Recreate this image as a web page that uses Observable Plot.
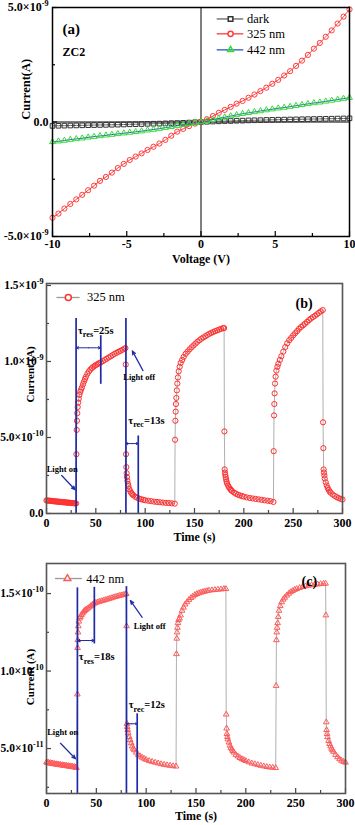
<!DOCTYPE html>
<html><head><meta charset="utf-8">
<script src="https://cdn.jsdelivr.net/npm/d3@7"></script>
<script src="https://cdn.jsdelivr.net/npm/@observablehq/plot@0.6"></script>
<style>
html,body{margin:0;padding:0;background:#fff;}
#wrap{position:relative;width:355px;height:825px;overflow:hidden;background:#fff;}
#wrap svg{position:absolute;left:0;}
</style></head><body><div id="wrap"></div>
<script>
// ---------------- Panel (a): I–V curves, current in units of 1e-9 A ----------------
const voltage = [-10,-9.6,-9.2,-8.8,-8.4,-8,-7.6,-7.2,-6.8,-6.4,-6,-5.6,-5.2,-4.8,-4.4,-4,-3.6,-3.2,-2.8,-2.4,-2,-1.6,-1.2,-0.8,-0.4,0,0.4,0.8,1.2,1.6,2,2.4,2.8,3.2,3.6,4,4.4,4.8,5.2,5.6,6,6.4,6.8,7.2,7.6,8,8.4,8.8,9.2,9.6,10];
const currentDark = [-0.17,-0.165,-0.16,-0.155,-0.15,-0.145,-0.14,-0.135,-0.13,-0.125,-0.12,-0.115,-0.11,-0.1,-0.095,-0.09,-0.08,-0.075,-0.07,-0.06,-0.05,-0.045,-0.035,-0.025,-0.01,0,0.01,0.02,0.03,0.04,0.045,0.055,0.06,0.07,0.075,0.08,0.09,0.095,0.1,0.105,0.11,0.115,0.12,0.125,0.13,0.135,0.14,0.145,0.15,0.155,0.16];
const current325 = [-4.18,-4.0,-3.78,-3.58,-3.38,-3.18,-2.98,-2.78,-2.57,-2.4,-2.21,-2.01,-1.83,-1.66,-1.51,-1.37,-1.22,-1.08,-0.94,-0.78,-0.6,-0.42,-0.3,-0.18,-0.07,0.02,0.12,0.26,0.4,0.53,0.66,0.8,0.92,1.06,1.2,1.35,1.5,1.67,1.84,2.03,2.22,2.45,2.68,2.93,3.2,3.45,3.72,4.0,4.3,4.6,4.92];
const current442 = [-0.87,-0.84,-0.81,-0.77,-0.74,-0.71,-0.67,-0.64,-0.61,-0.58,-0.55,-0.52,-0.49,-0.46,-0.43,-0.4,-0.36,-0.33,-0.29,-0.25,-0.21,-0.16,-0.12,-0.08,-0.04,0,0.05,0.1,0.16,0.21,0.26,0.31,0.36,0.4,0.44,0.48,0.52,0.56,0.6,0.63,0.67,0.71,0.75,0.79,0.83,0.86,0.9,0.94,0.98,1.02,1.06];
const seriesNamesA = ["dark", "325 nm", "442 nm"];
const xTicksA = [-10, -5, 0, 5, 10];
const xMinorA = [-7.5, -2.5, 2.5, 7.5];
const yTicksA = [-5, 0, 5];
const yTickLabelsA = ["-5.0×10^-9", "0.0", "5.0×10^-9"];
const yMinorA = [-2.5, 2.5];

// ---------------- Panel (b): 325 nm switching, [time s, current in 1e-10 A] ----------------
const b_dark1 = [[0,0.86],[1,0.85],[2,0.85],[3,0.84],[4,0.83],[5,0.83],[6,0.82],[7,0.81],[8,0.8],[9,0.8],[10,0.79],[11,0.78],[12,0.78],[13,0.77],[14,0.76],[15,0.76],[16,0.75],[17,0.74],[18,0.74],[19,0.73],[20,0.72],[21,0.72],[22,0.71],[23,0.71],[24,0.7],[25,0.69],[26,0.69],[27,0.68],[28,0.67],[29,0.67],[30,0.66]];
const b_on1 = [[30.3,3.9],[30.6,5.5],[30.9,6.1],[31.2,6.6],[31.6,7.0],[32.1,7.3],[32.7,7.55],[33.4,7.8],[34.2,8.0],[35,8.15],[36,8.3],[37,8.5],[38,8.68],[39,8.85],[40,9.0],[41.5,9.2],[43,9.35],[44.5,9.47],[46,9.57],[47.5,9.65],[49,9.72],[50.5,9.78],[52,9.84],[53.5,9.89],[55,9.94],[57,10.02],[59,10.1],[61,10.18],[63,10.26],[65,10.34],[67,10.42],[69,10.5],[71,10.57],[73,10.64],[75,10.7],[77,10.77],[79,10.84],[80,10.88]];
const b_off1 = [[80.3,9.8],[80.6,3.9],[80.9,3.05],[81.2,2.65],[81.5,2.4],[82,2.15],[82.5,1.95],[83,1.8],[84,1.6],[85,1.45],[86,1.35],[87,1.27],[88,1.2],[90,1.1],[92,1.03],[94,0.98],[96,0.94],[98,0.9],[100,0.87],[103,0.84],[106,0.81],[109,0.78],[112,0.76],[115,0.74],[118,0.72],[121,0.7],[124,0.69],[127,0.67],[130,0.65]];
const b_on2 = [[130.3,4.85],[130.6,6.1],[130.9,6.7],[131.2,7.2],[131.6,7.6],[132.1,8.1],[132.6,8.55],[133.2,8.95],[134,9.35],[135,9.65],[136,9.9],[137.5,10.1],[139,10.3],[141,10.5],[143,10.65],[145,10.8],[147,10.93],[149,11.05],[151,11.18],[153,11.3],[155,11.4],[157,11.5],[159,11.58],[161,11.66],[163,11.74],[165,11.82],[167,11.88],[169,11.94],[171,12.0],[173,12.05],[175,12.1],[177,12.15],[179,12.19],[180,12.2]];
const b_off2 = [[180.3,5.4],[180.6,2.9],[180.9,2.7],[181.2,2.55],[181.6,2.4],[182,2.25],[182.5,2.1],[183,1.98],[184,1.84],[185,1.72],[186,1.63],[187,1.55],[188,1.48],[190,1.38],[192,1.3],[194,1.24],[196,1.19],[198,1.15],[200,1.11],[203,1.06],[206,1.02],[209,0.99],[212,0.96],[215,0.93],[218,0.9],[221,0.87],[224,0.84],[227,0.81],[230,0.76]];
const b_on3 = [[230.3,4.1],[230.6,6.45],[230.9,7.2],[231.2,7.9],[231.6,8.55],[232.2,9.0],[233,9.4],[234,9.65],[235,9.85],[236.5,10.1],[238,10.35],[240,10.65],[242,10.95],[244,11.2],[246,11.4],[248,11.55],[250,11.72],[252,11.86],[254,12.0],[256,12.15],[258,12.27],[260,12.38],[262,12.48],[264,12.6],[266,12.72],[268,12.82],[270,12.92],[272,13.0],[274,13.1],[276,13.2],[278,13.3],[280,13.38]];
const b_off3 = [[280.3,6.0],[280.6,4.3],[280.9,2.9],[281.2,2.7],[281.6,2.5],[282,2.3],[283,2.05],[284,1.85],[285,1.68],[286,1.55],[287,1.45],[288,1.37],[290,1.25],[292,1.16],[294,1.08],[296,1.02],[298,0.96],[300,0.92]];
const yTicksB = [0, 5, 10, 15];
const yTickLabelsB = ["0.0", "5.0×10^-10", "1.0×10^-9", "1.5×10^-9"];
const yMinorB = [2.5, 7.5, 12.5];

// ---------------- Panel (c): 442 nm switching, [time s, current in 1e-11 A] ----------------
const c_dark1 = [[0,4.12],[1,4.08],[2,4.1],[3,4.05],[4,4.07],[5,4.03],[6,4.05],[7,4.0],[8,4.02],[9,3.98],[10,4.0],[11,3.96],[12,3.98],[13,3.94],[14,3.96],[15,3.92],[16,3.94],[17,3.9],[18,3.92],[19,3.88],[20,3.9],[21,3.86],[22,3.88],[23,3.84],[24,3.86],[25,3.82],[26,3.84],[27,3.8],[28,3.82],[29,3.78],[30,3.76]];
const c_on1 = [[31.0,8.5],[31.2,11.5],[31.4,12.0],[31.6,12.5],[31.9,12.9],[32.4,13.2],[33.2,13.4],[34,13.5],[35,13.62],[36,13.72],[37,13.8],[38,13.88],[39,13.94],[40,13.98],[41.5,14.05],[43,14.12],[44.5,14.2],[46,14.28],[47.5,14.35],[49,14.4],[51,14.44],[53,14.48],[55,14.52],[57,14.55],[59,14.59],[61,14.63],[63,14.67],[65,14.71],[67,14.75],[69,14.79],[71,14.82],[73,14.86],[75,14.89],[77,14.92],[79,14.96],[80,14.98]];
const c_off1 = [[80.3,12.9],[80.7,6.6],[81,6.4],[81.5,6.2],[82,6.0],[83,5.75],[84,5.55],[85,5.35],[86,5.15],[87,5.0],[88,4.9],[90,4.75],[92,4.6],[94,4.5],[96,4.42],[98,4.35],[100,4.28],[103,4.2],[106,4.15],[109,4.1],[112,4.05],[115,4.0],[118,3.96],[121,3.93],[124,3.9],[127,3.87],[130,3.85]];
const c_on2 = [[130.4,11.1],[130.7,12.1],[131,12.5],[131.4,12.8],[131.9,13.1],[132.5,13.3],[133.5,13.4],[134.5,13.6],[136,13.9],[137.5,14.1],[139,14.3],[141,14.45],[143,14.6],[145,14.72],[147,14.82],[149,14.92],[151,14.98],[153,15.03],[155,15.07],[157,15.11],[159,15.14],[161,15.17],[163,15.2],[166,15.22],[169,15.24],[172,15.26],[175,15.28],[178,15.3],[180,15.3]];
const c_off2 = [[180.3,7.2],[180.7,6.3],[181,5.95],[181.5,5.75],[182,5.6],[183,5.4],[184,5.2],[185,5.05],[186,4.95],[187,4.85],[188,4.75],[190,4.6],[192,4.5],[194,4.4],[196,4.33],[198,4.27],[200,4.2],[203,4.12],[206,4.05],[209,4.0],[212,3.95],[215,3.9],[218,3.86],[221,3.82],[224,3.79],[227,3.77],[230,3.75]];
const c_on3 = [[230.4,9.05],[230.7,12.0],[231,12.5],[231.4,12.8],[231.9,13.1],[232.5,13.5],[233.3,13.9],[234.5,14.2],[236,14.45],[237.5,14.62],[239,14.74],[241,14.88],[243,15.0],[245,15.1],[247,15.18],[249,15.25],[251,15.3],[254,15.37],[257,15.43],[260,15.48],[263,15.52],[266,15.55],[269,15.58],[272,15.6],[275,15.62],[278,15.64],[280,15.65]];
const c_off3 = [[280.3,13.6],[280.7,6.7],[281,6.2],[281.5,5.95],[282,5.75],[283,5.5],[284,5.3],[285,5.15],[286,5.0],[287,4.9],[288,4.8],[290,4.6],[292,4.45],[294,4.32],[296,4.22],[298,4.15],[300,4.1]];
const yTicksC = [5, 10, 15];
const yTickLabelsC = ["5.0×10^-11", "1.0×10^-10", "1.5×10^-10"];
const yMinorC = [2.5, 7.5, 12.5];

const xTicksT = [0, 50, 100, 150, 200, 250, 300];
const xMinorT = [25, 75, 125, 175, 225, 275];

// ---------------- helpers ----------------
const FONT = "'Liberation Serif','Times New Roman',serif";
const BLUE = "#1f2aa6";
const wrap = document.getElementById("wrap");
const NS = "http://www.w3.org/2000/svg";

function inwardTicks(xs, ys, innerW, innerH, len, color) {
  return [
    Plot.ruleX(xs, {x: d => d, insetTop: innerH - len, stroke: color, strokeWidth: 1.2}),
    Plot.ruleY(ys, {y: d => d, insetRight: innerW - len, stroke: color, strokeWidth: 1.2})
  ];
}

function richText(svg) {
  svg.querySelectorAll("text").forEach(el => {
    const s = el.textContent;
    const fs = parseFloat(getComputedStyle(el).fontSize) || 12;
    if (s.includes("^")) {
      const [base, exp] = s.split("^");
      el.textContent = "";
      const a = document.createElementNS(NS, "tspan"); a.textContent = base; el.appendChild(a);
      const b = document.createElementNS(NS, "tspan");
      b.setAttribute("dy", (-0.42 * fs).toFixed(1));
      b.setAttribute("font-size", (0.68 * fs).toFixed(1));
      b.textContent = exp; el.appendChild(b);
    } else if (s.includes("_")) {
      const [p0, sub, rest] = s.split("_");
      el.textContent = "";
      const a = document.createElementNS(NS, "tspan"); a.textContent = p0; el.appendChild(a);
      const b = document.createElementNS(NS, "tspan");
      b.setAttribute("dy", (0.3 * fs).toFixed(1));
      b.setAttribute("font-size", (0.68 * fs).toFixed(1));
      b.textContent = sub; el.appendChild(b);
      const c = document.createElementNS(NS, "tspan");
      c.setAttribute("dy", (-0.3 * fs).toFixed(1));
      c.textContent = rest; el.appendChild(c);
    }
  });
}

function place(svg, top) {
  svg.style.top = top + "px";
  richText(svg);
  wrap.appendChild(svg);
}

function doubleArrow(x1, x2, y) {
  const m = (x1 + x2) / 2;
  return [
    Plot.arrow([0], {x1: () => m, x2: () => x1, y1: () => y, y2: () => y, stroke: BLUE, strokeWidth: 1, headLength: 4, headAngle: 50}),
    Plot.arrow([0], {x1: () => m, x2: () => x2, y1: () => y, y2: () => y, stroke: BLUE, strokeWidth: 1, headLength: 4, headAngle: 50})
  ];
}

// ---------------- Panel (a) ----------------
{
  const W = 355, H = 268, mL = 52, mR = 6, mT = 7, mB = 32;
  const iW = W - mL - mR, iH = H - mT - mB;
  const rows = voltage.map((v, i) => ({v, dark: currentDark[i], i325: current325[i], i442: current442[i]}));
  const yLab = new Map(yTicksA.map((d, i) => [d, yTickLabelsA[i]]));
  const legend = [
    {name: seriesNamesA[0], y: 4.5, line: "#666"},
    {name: seriesNamesA[1], y: 3.85, line: "#ff3b3b"},
    {name: seriesNamesA[2], y: 3.15, line: "#2457c5"}
  ];
  const svg = Plot.plot({
    width: W, height: H, marginLeft: mL, marginRight: mR, marginTop: mT, marginBottom: mB,
    x: {domain: [-10, 10]}, y: {domain: [-5, 5]},
    style: {fontFamily: FONT, fontSize: "12px", fontWeight: "bold", color: "#000", background: "none", overflow: "visible"},
    marks: [
      Plot.ruleX([0], {stroke: "#000", strokeWidth: 1}),
      Plot.ruleY([0], {stroke: "#000", strokeWidth: 1}),
      Plot.line(rows, {x: "v", y: "dark", stroke: "#666", strokeWidth: 1}),
      Plot.dot(rows, {x: "v", y: "dark", symbol: "square", r: 2.6, stroke: "#333", fill: "none", strokeWidth: 1}),
      Plot.line(rows, {x: "v", y: "i325", stroke: "#ff3b3b", strokeWidth: 1}),
      Plot.dot(rows, {x: "v", y: "i325", symbol: "circle", r: 2.6, stroke: "#ff3b3b", fill: "none", strokeWidth: 1}),
      Plot.line(rows, {x: "v", y: "i442", stroke: "#2457c5", strokeWidth: 1}),
      Plot.dot(rows, {x: "v", y: "i442", symbol: "triangle", r: 2.2, stroke: "#33dd33", fill: "none", strokeWidth: 1}),
      ...inwardTicks(xTicksA, yTicksA, iW, iH, 5, "#000"),
      ...inwardTicks(xMinorA, yMinorA, iW, iH, 3, "#000"),
      Plot.axisX(xTicksA, {tickSize: 0, tickPadding: 3, label: null, fontSize: 12, fontWeight: "bold", tickFormat: d => String(d)}),
      Plot.axisY(yTicksA, {tickSize: 0, tickPadding: 4, label: null, fontSize: 12, fontWeight: "bold", tickFormat: d => yLab.get(d)}),
      Plot.frame({stroke: "#000", strokeWidth: 1.5}),
      // legend
      Plot.ruleY(legend, {y: "y", x1: 1.09, x2: 2.88, stroke: "line", strokeWidth: 1.3}),
      Plot.dot(legend.slice(0, 1), {x: 1.99, y: "y", symbol: "square", r: 2.6, stroke: "#333", fill: "white"}),
      Plot.dot(legend.slice(1, 2), {x: 1.99, y: "y", symbol: "circle", r: 2.6, stroke: "#ff3b3b", fill: "white"}),
      Plot.dot(legend.slice(2, 3), {x: 1.99, y: "y", symbol: "triangle", r: 2.2, stroke: "#33dd33", fill: "none"}),
      Plot.text(legend, {x: 3.1, y: "y", text: "name", textAnchor: "start", fontSize: 12.5, fontWeight: "normal"}),
      Plot.text(["(a)"], {frameAnchor: "top-left", dx: 10, dy: 16, textAnchor: "start", fontSize: 15, fontWeight: "bold"}),
      Plot.text(["ZC2"], {frameAnchor: "top-left", dx: 10, dy: 40, textAnchor: "start", fontSize: 12, fontWeight: "bold"}),
      Plot.text(["Voltage (V)"], {frameAnchor: "bottom", dy: 26, fontSize: 12, fontWeight: "bold"}),
      Plot.text([{at: 0.1, label: "Current(A)"}], {frameAnchor: "left", y: "at", text: "label", dx: -27, rotate: -90, fontSize: 12.5, fontWeight: "bold"})
    ]
  });
  place(svg, 0);
}

// ---------------- time panels ----------------
function timePanel(cfg) {
  const W = 355, {H, mL, mR, mT, mB} = cfg;
  const iW = W - mL - mR, iH = H - mT - mB;
  const rows = cfg.segments.flat().map(([t, c]) => ({t, c}));
  const yLab = new Map(cfg.yTicks.map((d, i) => [d, cfg.yLabels[i]]));
  const a = cfg.ann;
  const y0 = cfg.yDomain[0];
  const marks = [
    Plot.line(rows, {x: "t", y: "c", stroke: "#b0b0b0", strokeWidth: 1}),
    Plot.dot(rows, {x: "t", y: "c", symbol: cfg.symbol, r: cfg.r, stroke: cfg.color, fill: "none", strokeWidth: 1}),
    // blue annotation lines
    Plot.ruleX(a.rules, {x: "x", y1: d => d.y1 ?? y0, y2: "y2", stroke: BLUE, strokeWidth: 1.7}),
    ...doubleArrow(a.res[0], a.res[1], a.res[2]),
    ...doubleArrow(a.rec[0], a.rec[1], a.rec[2]),
    Plot.arrow(a.pointers, {x1: "x1", y1: "y1", x2: "x2", y2: "y2", stroke: BLUE, strokeWidth: 1.2, headLength: 5, headAngle: 45}),
    Plot.text(a.labels, {x: "x", y: "y", text: "text", textAnchor: "start", fontSize: "size", fontWeight: "bold"}),
    ...inwardTicks(xTicksT, cfg.yTicks, iW, iH, 5, "#444"),
    ...inwardTicks(xMinorT, cfg.yMinor, iW, iH, 3, "#444"),
    Plot.axisX(xTicksT, {tickSize: 0, tickPadding: 5, label: null, fontSize: 12, fontWeight: "bold", tickFormat: d => String(d)}),
    Plot.axisY(cfg.yTicks, {tickSize: 0, tickPadding: 3, label: null, fontSize: 11.5, fontWeight: "bold", tickFormat: d => yLab.get(d)}),
    Plot.frame({stroke: "#555", strokeWidth: 1.6}),
    // legend
    Plot.ruleY([cfg.legend.y], {x1: cfg.legend.x1, x2: cfg.legend.x2, stroke: "#999", strokeWidth: 1.3}),
    Plot.dot([cfg.legend.y], {x: cfg.legend.xm, y: d => d, symbol: cfg.symbol, r: cfg.r + 0.4, stroke: cfg.color, fill: "white"}),
    Plot.text([cfg.legend.name], {x: cfg.legend.xt, y: cfg.legend.y, textAnchor: "start", fontSize: 12.5, fontWeight: "normal"}),
    Plot.text([cfg.letter], {frameAnchor: "top-left", dx: cfg.letterDx, dy: cfg.letterDy, textAnchor: "start", fontSize: 14, fontWeight: "bold"}),
    Plot.text(["Time (s)"], {frameAnchor: "bottom", dy: cfg.xTitleDy, fontSize: 12, fontWeight: "bold"}),
    Plot.text([{at: cfg.yTitleAt, label: "Current (A)"}], {frameAnchor: "left", y: "at", text: "label", dx: -16, rotate: -90, fontSize: 11, fontWeight: "bold"})
  ];
  const svg = Plot.plot({
    width: W, height: H, marginLeft: mL, marginRight: mR, marginTop: mT, marginBottom: mB,
    x: {domain: [0, 300]}, y: {domain: cfg.yDomain},
    style: {fontFamily: FONT, fontSize: "12px", fontWeight: "bold", color: "#000", background: "none", overflow: "visible"},
    marks
  });
  place(svg, cfg.top);
}

timePanel({
  top: 270, H: 272, mL: 46, mR: 13, mT: 13, mB: 29,
  segments: [b_dark1, b_on1, b_off1, b_on2, b_off2, b_on3, b_off3],
  yDomain: [0, 15.13], yTicks: yTicksB, yLabels: yTickLabelsB, yMinor: yMinorB,
  symbol: "circle", r: 2.6, color: "#ff3030",
  legend: {name: "325 nm", y: 14.21, x1: 10.6, x2: 34, xm: 22.1, xt: 41},
  letter: "(b)", letterDx: 249, letterDy: 15, yTitleAt: 7.3, xTitleDy: 27,
  ann: {
    rules: [{x: 30, y2: 12.83}, {x: 80.5, y2: 12.83}, {x: 55, y1: 8.5, y2: 11.7}, {x: 93, y2: 5.1}],
    res: [30, 55, 10.9], rec: [80.5, 93, 4.6],
    pointers: [{x1: 15.4, y1: 2.5, x2: 29, y2: 1.56}, {x1: 97.8, y1: 9.4, x2: 87, y2: 10.7}],
    labels: [
      {x: 31.9, y: 12.04, text: "τ_res_=25s", size: 10.5},
      {x: 0.2, y: 2.94, text: "Light on", size: 8.5},
      {x: 77.8, y: 8.93, text: "Light off", size: 8.5},
      {x: 82.9, y: 6.12, text: "τ_rec_=13s", size: 10.5}
    ]
  }
});

timePanel({
  top: 550, H: 275, mL: 46, mR: 10, mT: 13, mB: 32,
  segments: [c_dark1, c_on1, c_off1, c_on2, c_off2, c_on3, c_off3],
  yDomain: [2.1, 16.94], yTicks: yTicksC, yLabels: yTickLabelsC, yMinor: yMinorC,
  symbol: "triangle", r: 2.1, color: "#ff5a5a",
  legend: {name: "442 nm", y: 15.97, x1: 9, x2: 36, xm: 21, xt: 40},
  letter: "(c)", letterDx: 255, letterDy: 13, yTitleAt: 7.8, xTitleDy: 26,
  ann: {
    rules: [{x: 31, y2: 15.37}, {x: 80.2, y2: 15.45}, {x: 48, y1: 11.75, y2: 15.4}, {x: 91, y2: 7.24}],
    res: [31, 48, 11.97], rec: [80.2, 91, 6.6],
    pointers: [{x1: 14, y1: 5.34, x2: 29.1, y2: 4.34}, {x1: 96, y1: 13.47, x2: 84.2, y2: 14.55}],
    labels: [
      {x: 32.4, y: 10.9, text: "τ_res_=18s", size: 10.5},
      {x: 0.7, y: 6.05, text: "Light on", size: 8.5},
      {x: 87.6, y: 12.87, text: "Light off", size: 8.5},
      {x: 82.5, y: 7.84, text: "τ_rec_=12s", size: 10.5}
    ]
  }
});
</script></body></html>
